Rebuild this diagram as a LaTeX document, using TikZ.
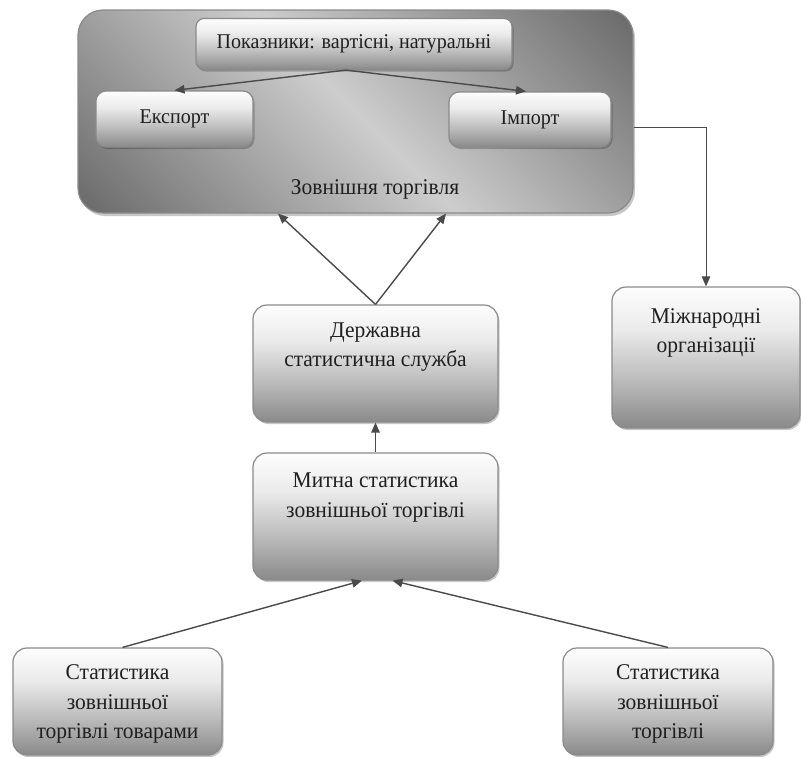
\documentclass[tikz,border=0pt]{standalone}
\usepackage{fontspec}
\setmainfont{Liberation Serif}[FakeStretch=0.955]
\usetikzlibrary{arrows.meta,shadows,calc}
\definecolor{bxdark}{HTML}{8A8A8A}
\definecolor{bxmid}{HTML}{BBBBBB}
\definecolor{bxlight}{HTML}{EBEBEB}
\definecolor{bxtop}{HTML}{FDFDFD}
\definecolor{bgdark}{HTML}{6A6A6A}
\definecolor{bglight}{HTML}{CDCDCD}
\definecolor{bxline}{HTML}{8A8A8A}
\definecolor{lnc}{HTML}{4A4A4A}
\pgfdeclareverticalshading{boxshade}{100bp}{color(0bp)=(bxdark); color(25bp)=(bxdark); color(42bp)=(bxmid); color(60bp)=(bxlight); color(75bp)=(bxtop); color(100bp)=(bxtop)}
\pgfdeclareverticalshading{bigshade}{100bp}{color(0bp)=(bgdark); color(15bp)=(bgdark); color(50bp)=(bglight); color(85bp)=(bgdark); color(100bp)=(bgdark)}
\tikzset{
  box/.style={draw=bxline, line width=1.2pt, rounded corners=#1, shading=boxshade,
    drop shadow={shadow xshift=1.5pt, shadow yshift=-2pt, fill=black, opacity=0.22},
    inner sep=0pt, font=\fontsize{21}{28}\selectfont, text=black!88},
  box/.default=14pt,
  bigbox/.style={draw=bxline, line width=1.2pt, rounded corners=25pt, shading=bigshade, shading angle=-45,
    drop shadow={shadow xshift=2pt, shadow yshift=-3pt, fill=black, opacity=0.22}, inner sep=0pt},
  txt/.style={align=center, inner sep=0pt, font=\fontsize{22.5}{29.5}\selectfont, text=black!88},
  arr/.style={draw=lnc, line width=1.4pt, -{Triangle[length=10pt,width=8.5pt]}},
  thinarr/.style={draw=lnc, line width=1pt, -{Triangle[length=10pt,width=8.5pt]}},
}
\begin{document}
\begin{tikzpicture}[x=1pt, y=-1pt]
\useasboundingbox (0,0) rectangle (801,758);
% big box
\node[bigbox, minimum width=555pt, minimum height=203pt] (big) at (355.5,111.5) {};
\node[txt] (bigt) at (375,189) {Зовнішня торгівля};
\node[box=8pt, minimum width=316pt, minimum height=51pt] (pok) at (354,44) {Показники: вартісні, натуральні};
\node[box=10pt, minimum width=157pt, minimum height=56pt] (exp) at (174.5,119) {Експорт};
\node[box=10pt, minimum width=162pt, minimum height=55pt] (imp) at (530,119.5) {Імпорт};
% other boxes
\node[box, minimum width=245pt, minimum height=117pt] (derzh) at (375.5,363.5) {};
\node[txt] (derzht) at (375.5,347) {Державна\\статистична служба};
\node[box, minimum width=245pt, minimum height=127pt] (mytna) at (375.5,516.5) {};
\node[txt] (mytnat) at (375.5,497.5) {Митна статистика\\зовнішньої торгівлі};
\node[box, minimum width=188pt, minimum height=141pt] (mizh) at (706,357.5) {};
\node[txt] (mizht) at (706,333) {Міжнародні\\організації};
\node[box, minimum width=209pt, minimum height=107pt] (sl) at (117.5,701.5) {};
\node[txt] (slt) at (117.5,704) {Статистика\\зовнішньої\\торгівлі товарами};
\node[box, minimum width=210pt, minimum height=107pt] (sr) at (668,701.5) {};
\node[txt] (srt) at (668,704) {Статистика\\зовнішньої\\торгівлі};
% connectors
\coordinate (pokout) at ($(pok.south)+(-8,0)$);
\draw[arr] (pokout) -- (exp.north);
\draw[arr] (pokout) -- ($(imp.north)+(-4,0)$);
\draw[arr] (derzh.north) -- ($(big.south)+(-77.5,0)$);
\draw[arr] (derzh.north) -- ($(big.south)+(90.5,0)$);
\draw[arr] (mytna.north) -- (derzh.south);
\draw[arr] ($(sl.north)+(5,0)$) -- ($(mytna.south)+(-13.5,0)$);
\draw[arr] (sr.north) -- ($(mytna.south)+(17,0)$);
\coordinate (bigout) at ($(big.east)+(0,15.5)$);
\draw[thinarr] (bigout) -| (mizh.north);
\end{tikzpicture}
\end{document}
